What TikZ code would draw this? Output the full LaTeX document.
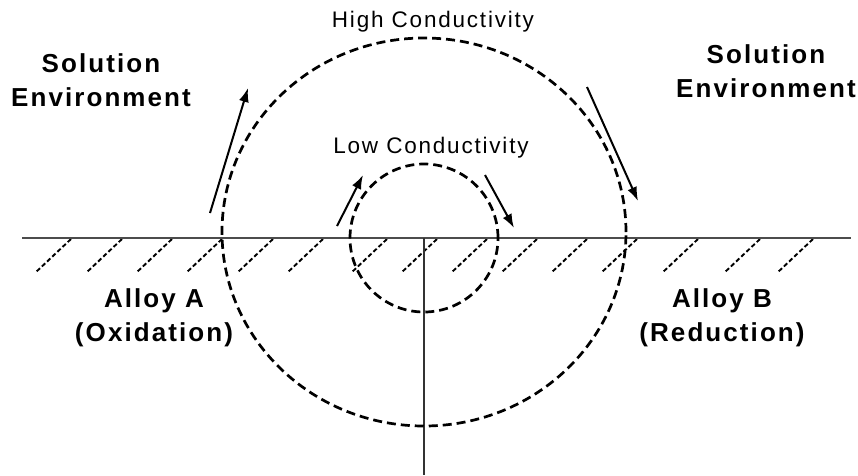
\documentclass[tikz,border=0pt]{standalone}
\usepackage{fontspec}
\newfontfamily\diagfont[LetterSpace=8]{Liberation Sans}
\usetikzlibrary{arrows.meta}

\begin{document}
\begin{tikzpicture}[
  x=1pt, y=-1pt,
  >=Latex,
  surface/.style={draw=black!70, line width=1.6pt},
  hatch/.style={draw=black, line width=1.9pt, dash pattern=on 4.5pt off 2.6pt},
  loop/.style={draw=black, line width=2.7pt, dash pattern=on 9pt off 5pt},
  current/.style={-{Latex[length=14pt, width=10pt]}, line width=2pt, draw=black},
  region/.style={font=\diagfont\bfseries\fontsize{26}{34}\selectfont, align=center},
  level/.style={font=\diagfont\fontsize{22.5}{26}\selectfont}
]
\useasboundingbox (0,0) rectangle (858,475);

% metal surface and the boundary between the two alloys
\coordinate (surfL) at (22,238);
\coordinate (surfR) at (851,238);
\coordinate (joint) at (424,238);
\coordinate (jointB) at (424,475);
\foreach \hx in {71,122,172,222,273,323,387,437,487,537,587,637,698,760,813}
  \draw[hatch] (\hx,239) -- ++(-35,33);
\draw[surface] (surfL) -- (surfR);
\draw[line width=1.5pt, draw=black!80] (joint) -- (jointB);

% current loops
\draw[loop] (424,232) ellipse [x radius=202pt, y radius=194pt];
\draw[loop] (424,238) circle [radius=74pt];

\node[level] (high) at (433,22) {High Conductivity};
\node[level] (low) at (431,148) {Low Conductivity};

\coordinate (outA0) at (210,213);
\coordinate (outA1) at (248,88);
\coordinate (outB0) at (587,87);
\coordinate (outB1) at (638,201);
\coordinate (inA0) at (337,226);
\coordinate (inA1) at (363,175);
\coordinate (inB0) at (485,175);
\coordinate (inB1) at (514,228);
\draw[current] (outA0) -- (outA1);
\draw[current] (outB0) -- (outB1);
\draw[current] (inA0) -- (inA1);
\draw[current] (inB0) -- (inB1);

\node[region] (solA) at (101,80) {Solution\\Environment};
\node[region] (solB) at (766,71) {Solution\\Environment};
\node[region] (alloyA) at (154,318) {Alloy A\\(Oxidation)};
\node[region] (alloyB) at (722,318) {Alloy B\\(Reduction)};

\end{tikzpicture}
\end{document}
